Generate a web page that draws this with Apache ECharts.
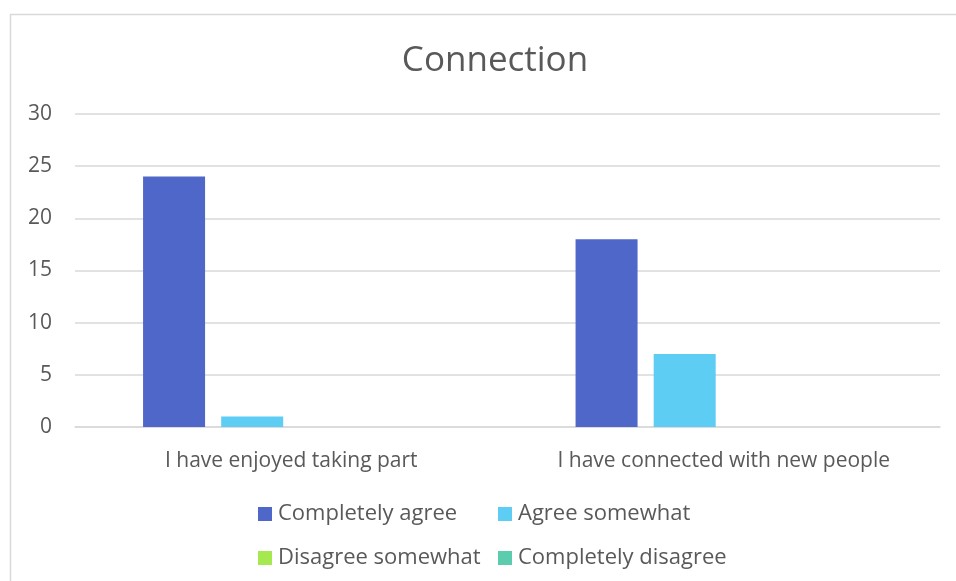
<!DOCTYPE html>
<html>
<head>
<meta charset="utf-8">
<script src="https://cdn.jsdelivr.net/npm/echarts@6/dist/echarts.min.js"></script>
<style>
  html, body { margin: 0; padding: 0; background: #ffffff; }
  #chart { width: 956px; height: 581px; }
</style>
</head>
<body>
<div id="chart"></div>
<script>
// Survey responses for the "Connection" section
const categories = ['I have enjoyed taking part', 'I have connected with new people'];
const seriesNames = ['Completely agree', 'Agree somewhat', 'Disagree somewhat', 'Completely disagree'];
const completelyAgree = [24, 18];
const agreeSomewhat = [1, 7];
const disagreeSomewhat = [0, 0];
const completelyDisagree = [0, 0];
const seriesColors = ['#4e67c8', '#5ecdf3', '#a5e850', '#5bcdae'];
const yTicks = { min: 0, max: 30, interval: 5 };

const seriesValues = [completelyAgree, agreeSomewhat, disagreeSomewhat, completelyDisagree];
const textColor = '#595959';
const fontFamily = '"Open Sans", "Liberation Sans", Arial, sans-serif';

const chart = echarts.init(document.getElementById('chart'), null, { renderer: 'canvas' });

function legendAt(name, left, top) {
  return {
    data: [name],
    left: left,
    top: top,
    icon: 'rect',
    itemWidth: 14,
    itemHeight: 14,
    itemGap: 0,
    textStyle: { color: textColor, fontSize: 22, fontFamily: fontFamily, padding: [0, 0, 0, 1] },
    selectedMode: false,
    padding: 0
  };
}

chart.setOption({
  animation: false,
  backgroundColor: '#ffffff',
  title: {
    text: 'Connection',
    left: 490,
    top: 39,
    textAlign: 'center',
    textStyle: { color: textColor, fontSize: 35, fontWeight: 'normal', fontFamily: fontFamily }
  },
  graphic: [{
    type: 'rect',
    shape: { x: 10.5, y: 14.5, width: 960, height: 600 },
    style: { fill: 'none', stroke: '#d9d9d9', lineWidth: 1.5 },
    silent: true,
    z: -1
  }],
  legend: [
    legendAt(seriesNames[0], 258, 503),
    legendAt(seriesNames[1], 498, 503),
    legendAt(seriesNames[2], 258, 547),
    legendAt(seriesNames[3], 498, 547)
  ],
  grid: { left: 75, right: 16, top: 114, bottom: 154, containLabel: false },
  xAxis: {
    type: 'category',
    data: categories,
    axisLine: { show: true, lineStyle: { color: '#d9d9d9', width: 1.5 } },
    axisTick: { show: false },
    axisLabel: { color: textColor, fontSize: 21, fontFamily: fontFamily, margin: 24 }
  },
  yAxis: {
    type: 'value',
    min: yTicks.min,
    max: yTicks.max,
    interval: yTicks.interval,
    axisLine: { show: false },
    axisTick: { show: false },
    axisLabel: { color: textColor, fontSize: 21, fontFamily: fontFamily, margin: 23 },
    splitLine: { lineStyle: { color: '#d9d9d9', width: 1.5 } }
  },
  series: seriesNames.map((name, i) => ({
    name: name,
    type: 'bar',
    data: seriesValues[i],
    barWidth: 62,
    barGap: '26%',
    barCategoryGap: '31.6%',
    itemStyle: { color: seriesColors[i] }
  }))
});
</script>
</body>
</html>
